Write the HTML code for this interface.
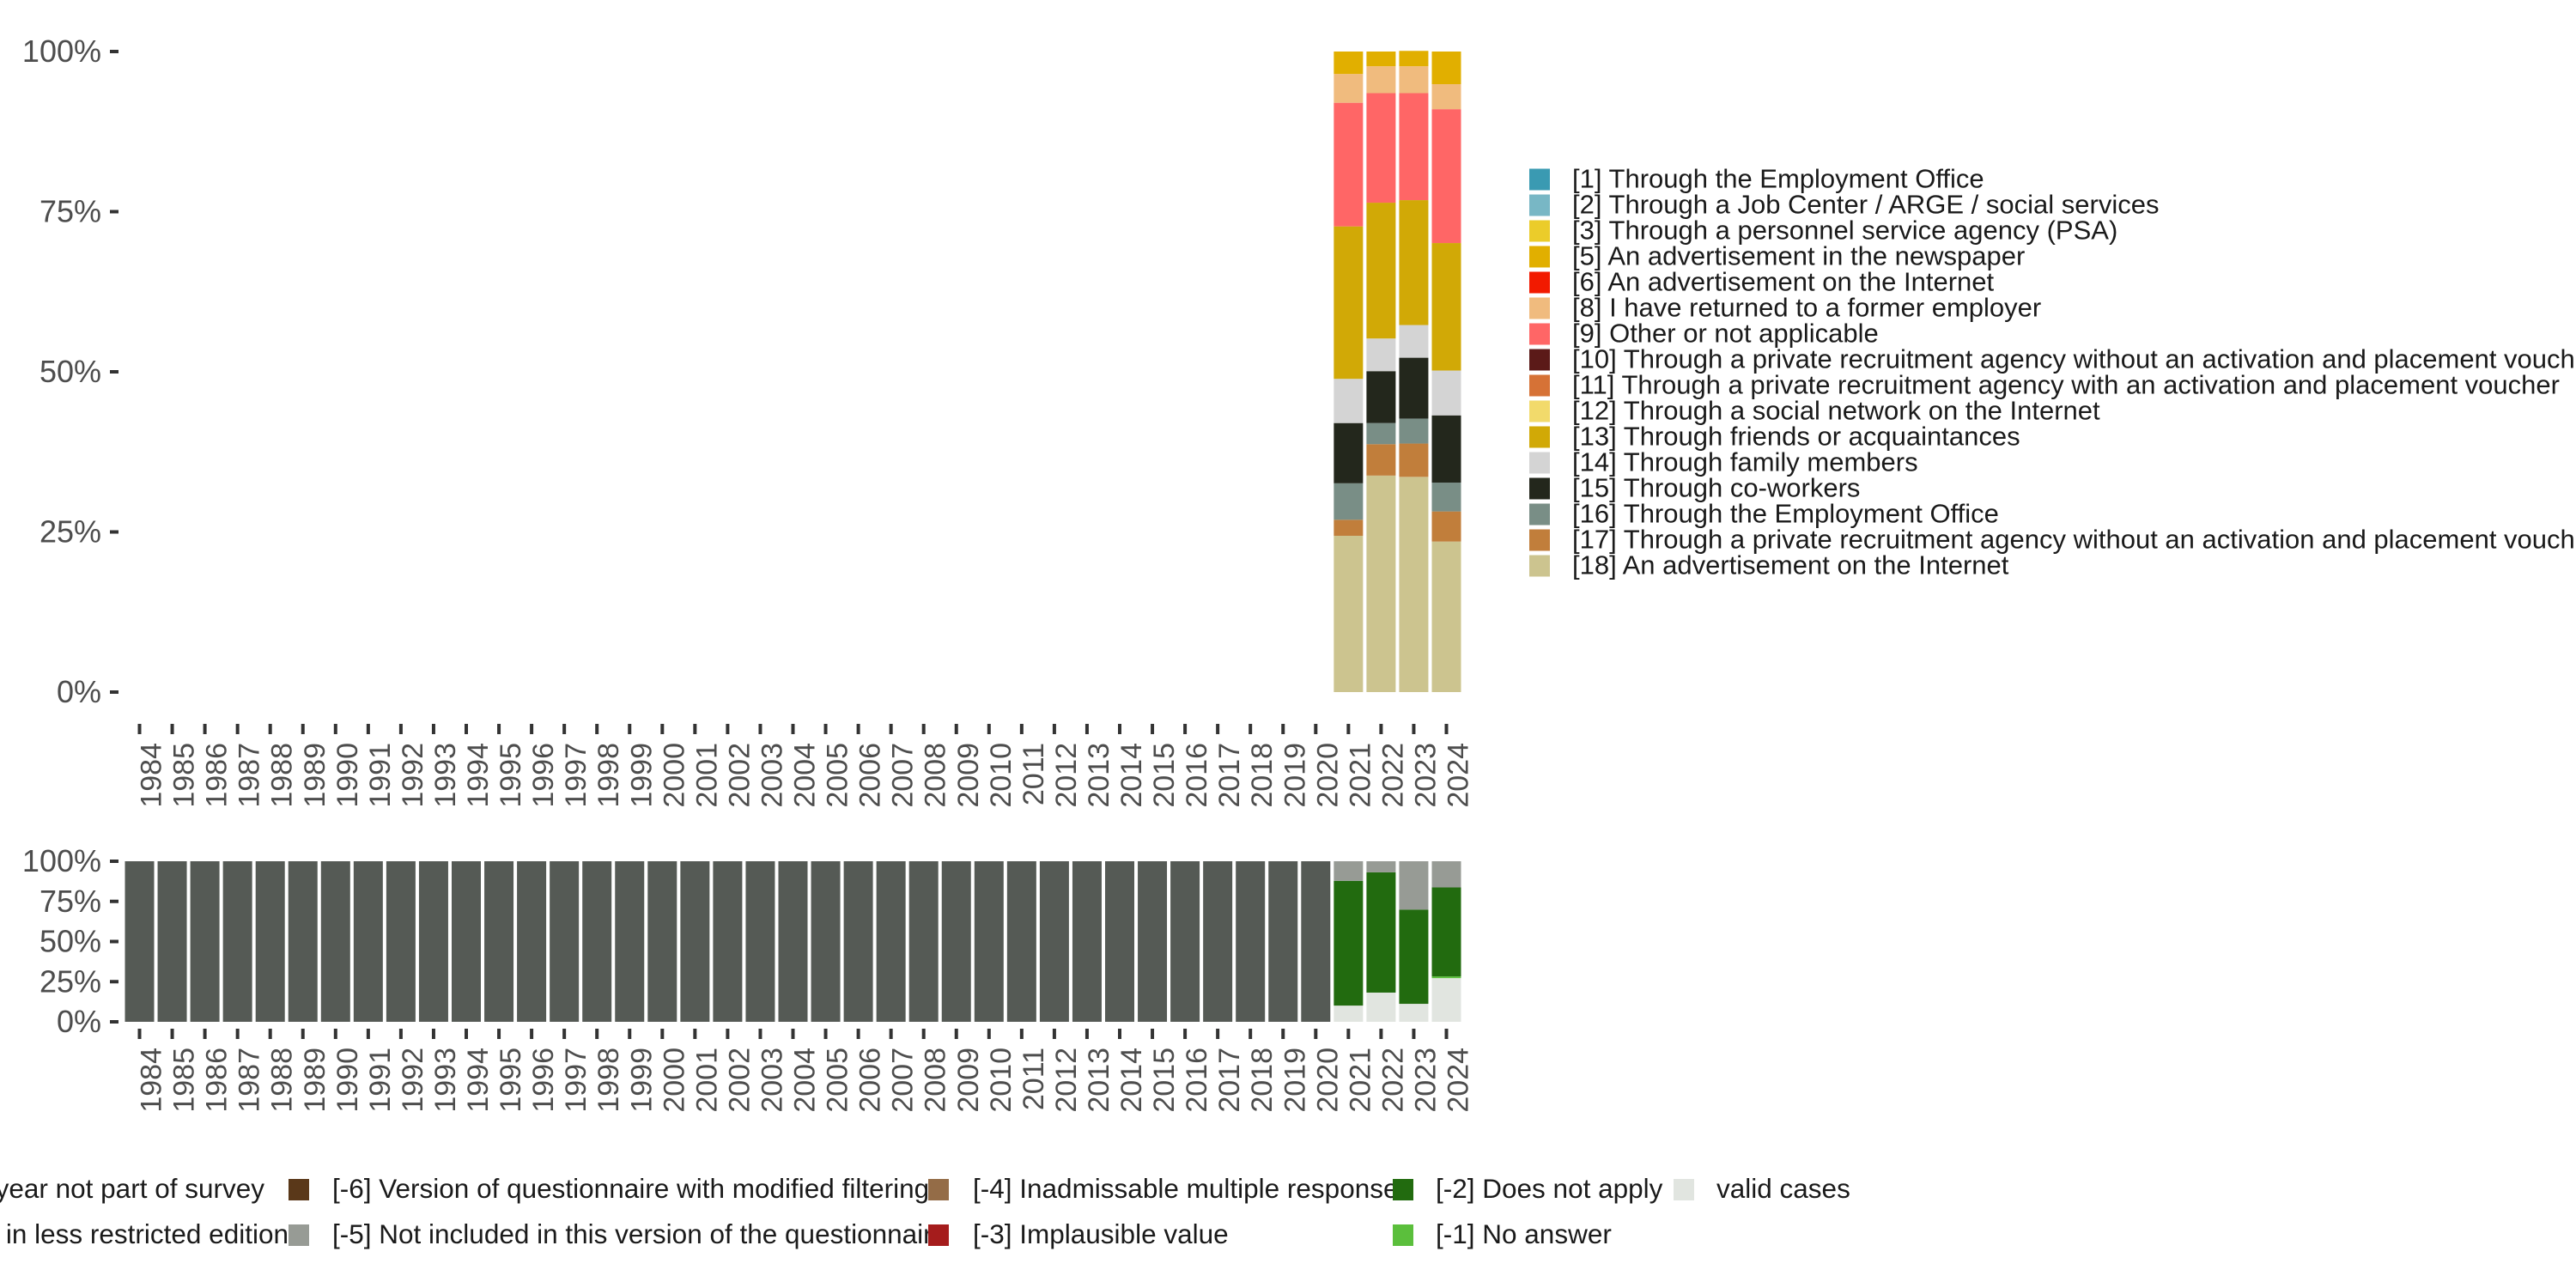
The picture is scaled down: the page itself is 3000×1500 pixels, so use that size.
<!DOCTYPE html>
<html><head><meta charset="utf-8"><style>
html,body{margin:0;padding:0;background:#fff;}
svg{display:block;font-family:"Liberation Sans",sans-serif;}
</style></head><body>
<svg id="chart" width="3000" height="1500" viewBox="0 0 3000 1500" xmlns="http://www.w3.org/2000/svg">
<g id="topPanel"></g>
<g id="botPanel"></g>
<g id="leg1"></g>
<g id="leg2"></g>
</svg>
<script>
const years = [];
for (let y = 1984; y <= 2024; y++) years.push(y);
const topYears = [2021, 2022, 2023, 2024];
const catCodes = ['18','17','16','15','14','13','9','8','5'];
const catColors = ['#CCC48F','#C17E3B','#798E86','#23271C','#D4D4D4','#D1A906','#FF6666','#F0BB7E','#E1AF00'];
const s2021 = [24.4,2.5,5.7,9.4,6.9,23.8,19.3,4.5,3.5];
const s2022 = [33.8,4.9,3.3,8.1,5.1,21.2,17.1,4.2,2.3];
const s2023 = [33.6,5.2,3.9,9.5,5.1,19.5,16.7,4.2,2.4];
const s2024 = [23.5,4.7,4.5,10.5,7.0,19.9,20.9,3.9,5.1];
const topSeries = [s2021, s2022, s2023, s2024];
const yTicks = [0,25,50,75,100];
const yTickLabels = ['0%','25%','50%','75%','100%'];
const botCats = ['valid','na','dna','notincl'];
const botColors = ['#E1E5E0','#5BBF3C','#226B0F','#979B95'];
const b2021 = [10.1,0,77.7,12.2];
const b2022 = [18.2,0,74.9,6.9];
const b2023 = [11.2,0,58.7,30.1];
const b2024 = [27.2,1.1,55.4,16.3];
const botSeries = [b2021,b2022,b2023,b2024];
const legItems = ['[1] Through the Employment Office','[2] Through a Job Center / ARGE / social services','[3] Through a personnel service agency (PSA)','[5] An advertisement in the newspaper','[6] An advertisement on the Internet','[8] I have returned to a former employer','[9] Other or not applicable','[10] Through a private recruitment agency without an activation and placement voucher','[11] Through a private recruitment agency with an activation and placement voucher','[12] Through a social network on the Internet','[13] Through friends or acquaintances','[14] Through family members','[15] Through co-workers','[16] Through the Employment Office','[17] Through a private recruitment agency without an activation and placement voucher','[18] An advertisement on the Internet'];
const legColors = ['#3A9AB2','#78B7C5','#EBCC2A','#E1AF00','#F21A00','#F0BB7E','#FF6666','#5B1A18','#D67236','#F2DA6B','#D1A906','#D4D4D4','#23271C','#798E86','#C17E3B','#CCC48F'];

const NS='http://www.w3.org/2000/svg';
function mk(parent,tag,attrs,text){const e=document.createElementNS(NS,tag);for(const k in attrs)e.setAttribute(k,attrs[k]);if(text!==undefined)e.textContent=text;parent.appendChild(e);return e;}
const xScale = y => 162.5 + (y-1984)*38.05;
const BW = 34;
function yTop(v){return 806 - v/100*746;}
function yBot(v){return 1190 - v/100*187;}

const topG = document.getElementById('topPanel');
const botG = document.getElementById('botPanel');
yTicks.forEach((t,i)=>{
  let e = mk(topG,'text',{x:118,y:yTop(t)+12,'text-anchor':'end','font-size':36,fill:'#4d4d4d'},yTickLabels[i]);
  
  
  e = mk(topG,'rect',{x:128,y:yTop(t)-2,width:10,height:4,fill:'#333'});
  
  
  e = mk(botG,'text',{x:118,y:yBot(t)+12,'text-anchor':'end','font-size':36,fill:'#4d4d4d'},yTickLabels[i]);
  
  
  e = mk(botG,'rect',{x:128,y:yBot(t)-2,width:10,height:4,fill:'#333'});
  
  
});
years.forEach(y=>{
  const x = xScale(y);
  let e = mk(topG,'rect',{x:x-2,y:843,width:4,height:12,fill:'#333'});
  
  
  e = mk(topG,'text',{x:0,y:0,'text-anchor':'end','font-size':34,fill:'#4d4d4d',transform:`translate(${x+25},865) rotate(-90)`},String(y));
  
  
  e = mk(botG,'rect',{x:x-2,y:1198,width:4,height:12,fill:'#333'});
  
  
  e = mk(botG,'text',{x:0,y:0,'text-anchor':'end','font-size':34,fill:'#4d4d4d',transform:`translate(${x+25},1220) rotate(-90)`},String(y));
  
  
});
topYears.forEach((yr,i)=>{
  let cum=0;
  topSeries[i].forEach((v,j)=>{
    const r = mk(topG,'rect',{x:xScale(yr)-BW/2,y:yTop(cum+v),width:BW,height:yTop(cum)-yTop(cum+v),fill:catColors[j]});
    
    
    cum+=v;
  });
});
years.forEach(yr=>{
  const idx = topYears.indexOf(yr);
  if(idx<0){
    const r = mk(botG,'rect',{x:xScale(yr)-BW/2,y:yBot(100),width:BW,height:yBot(0)-yBot(100),fill:'#555A55'});
    
    
  } else {
    let cum=0;
    botSeries[idx].forEach((v,j)=>{
      if(v<=0)return;
      const r = mk(botG,'rect',{x:xScale(yr)-BW/2,y:yBot(cum+v),width:BW,height:yBot(cum)-yBot(cum+v),fill:botColors[j]});
      
      
      cum+=v;
    });
  }
});
const leg1=document.getElementById('leg1');
legItems.forEach((t,i)=>{
  const cy = 208.5 + i*30;
  let e = mk(leg1,'rect',{x:1781,y:cy-12,width:24,height:25,fill:legColors[i]});
  
  
  e = mk(leg1,'text',{x:1831,y:cy+10,'font-size':31,fill:'#1a1a1a'},t);
  
  
});
const leg2=document.getElementById('leg2');
const l2 = [
 {sx:null,tx:308,y:1385,t:'[-8] Question this year not part of survey',c:'#555A55',end:true},
 {sx:null,tx:336,y:1438,t:'[-7] Only available in less restricted edition',c:'#555A55',end:true},
 {sx:336,tx:387,y:1385,t:'[-6] Version of questionnaire with modified filtering',c:'#5A3819'},
 {sx:336,tx:387,y:1438,t:'[-5] Not included in this version of the questionnaire',c:'#979B95'},
 {sx:1081,tx:1133,y:1385,t:'[-4] Inadmissable multiple response',c:'#946C47'},
 {sx:1081,tx:1133,y:1438,t:'[-3] Implausible value',c:'#A51C1C'},
 {sx:1622,tx:1672,y:1385,t:'[-2] Does not apply',c:'#226B0F'},
 {sx:1622,tx:1672,y:1438,t:'[-1] No answer',c:'#5BBF3C'},
 {sx:1949,tx:1999,y:1385,t:'valid cases',c:'#E1E5E0'}
];
l2.forEach(o=>{
  if(o.sx!==null){
    const s = mk(leg2,'rect',{x:o.sx,y:o.y-12,width:24,height:25,fill:o.c});
    
    
  }
  const e = mk(leg2,'text',{x:o.tx,y:o.y+10,'font-size':31.5,fill:'#1a1a1a','text-anchor':o.end?'end':'start'},o.t);
  
  
});
</script>
</body></html>
